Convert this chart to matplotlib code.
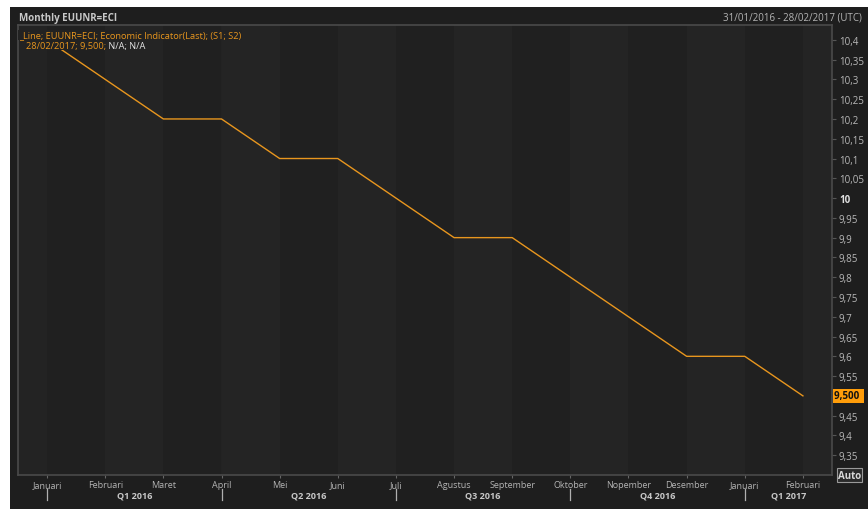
import matplotlib
matplotlib.use("Agg")
import matplotlib.pyplot as plt
import matplotlib.transforms as mtransforms

plt.rcParams['font.family'] = ['Open Sans', 'DejaVu Sans']

# data (monthly, end of month)
months = ['Januari', 'Februari', 'Maret', 'April', 'Mei', 'Juni', 'Juli',
          'Agustus', 'September', 'Oktober', 'Nopember', 'Desember',
          'Januari', 'Februari']
values = [10.4, 10.3, 10.2, 10.2, 10.1, 10.1, 10.0,
          9.9, 9.9, 9.8, 9.7, 9.6, 9.6, 9.5]
quarters = ['Q1 2016', 'Q2 2016', 'Q3 2016', 'Q4 2016', 'Q1 2017']
quarter_start = [0, 3, 6, 9, 12]
ytick_vals = [9.35, 9.4, 9.45, 9.55, 9.6, 9.65, 9.7, 9.75, 9.8, 9.85, 9.9,
              9.95, 10.0, 10.05, 10.1, 10.15, 10.2, 10.25, 10.3, 10.35, 10.4]
last_value = 9.5

W, H = 868, 510
fig = plt.figure(figsize=(W / 100, H / 100), dpi=100, facecolor='white')

# dark panel
fig.patches.append(plt.Rectangle((10 / W, 0), 1, (H - 8) / H, transform=fig.transFigure,
                                 facecolor='#1e1e1e', edgecolor='none', zorder=-5))

ax_l, ax_r, ax_t, ax_b = 18, 832, 26, 476
ax = fig.add_axes([ax_l / W, (H - ax_b) / H, (ax_r - ax_l) / W, (ax_b - ax_t) / H])
ax.set_zorder(1)
ax.set_facecolor('#232323')
ax.set_xlim(-0.5, len(months) - 0.5)
ax.set_ylim(9.3, 10.4375)

# month stripes
for i in range(len(months)):
    c = '#202020' if i % 2 == 0 else '#242424'
    ax.axvspan(i, i + 1, color=c, lw=0, zorder=0)

ax.plot(range(len(values)), values, color='#e8961e', lw=1.0, zorder=2)

for s in ax.spines.values():
    s.set_color('#4a4a4a')
    s.set_linewidth(1.2)

# y axis on right
ax.yaxis.tick_right()
ylabels = [('%g' % v).replace('.', ',') for v in ytick_vals]
ax.set_yticks(ytick_vals, ylabels)
ax.tick_params(axis='y', colors='#555555', labelcolor='#b8b8b8', length=3,
               width=0.8, labelsize=7, pad=2)
for lab in ax.get_yticklabels():
    if lab.get_text() == '10':
        lab.set_fontweight('bold')
        lab.set_color('#e0e0e0')

# x axis
ax.set_xticks(range(len(months)), months)
ax.tick_params(axis='x', colors='#666666', labelcolor='#b4b4b4', length=2,
               width=0.8, labelsize=6.5, pad=1.5)

# quarter labels and separators
trans = mtransforms.blended_transform_factory(ax.transData, ax.transAxes)
h = ax_b - ax_t
bounds = quarter_start + [len(months) - 0.5]
for k, q in enumerate(quarters):
    mid = (bounds[k] + bounds[k + 1]) / 2
    ax.text(mid, -(496 - ax_b) / h, q, transform=trans, ha='center', va='center',
            fontsize=6.5, fontweight='bold', color='#c8c8c8')
for qs in quarter_start:
    ax.plot([qs, qs], [-(490 - ax_b) / h, -(501 - ax_b) / h], transform=trans,
            color='#b0b0b0', lw=0.9, clip_on=False)

# last value tag and auto box
ytrans = mtransforms.blended_transform_factory(ax.transAxes, ax.transData)
ax.text(1.003, last_value, '9,500 ', transform=ytrans, ha='left', va='center',
        fontsize=7, fontweight='bold', color='#111111', zorder=6,
        bbox=dict(boxstyle='square,pad=0.15', facecolor='#ff9d0a', edgecolor='none'))
ax.text(1.007, 9.3, 'Auto', transform=ytrans, ha='left', va='center',
        fontsize=7, fontweight='bold', color='#d8d8d8', zorder=6,
        bbox=dict(boxstyle='square,pad=0.12', facecolor='#2a2a2a', edgecolor='#9a9a9a', lw=0.8))

# legend text inside plot
t1 = ax.text(0.001, (ax_b - 36) / h, '_Line; EUUNR=ECI; Economic Indicator(Last); (S1; S2)',
             transform=ax.transAxes, ha='left', va='center', fontsize=6.7, color='#e8961e',
             zorder=5, bbox=dict(boxstyle='square,pad=0.1', facecolor='#222222', edgecolor='none'))
t2 = ax.text(8 / (ax_r - ax_l), (ax_b - 46) / h, '28/02/2017; 9,500;',
             transform=ax.transAxes, ha='left', va='center', fontsize=6.7, color='#e8961e',
             zorder=5, bbox=dict(boxstyle='square,pad=0.1', facecolor='#222222', edgecolor='none'))
ax.annotate(' N/A; N/A', xy=(1, 0.5), xycoords=t2, ha='left', va='center',
            fontsize=6.7, color='#e6e6e6', zorder=5)

# header
fig.text(19 / W, 1 - 18 / H, 'Monthly EUUNR=ECI', ha='left', va='center',
         fontsize=7, fontweight='bold', color='#c8c8c8')
fig.text(862 / W, 1 - 18 / H, '31/01/2016 - 28/02/2017 (UTC)', ha='right', va='center',
         fontsize=7, color='#b4b4b4')

fig.savefig('out.png', dpi=100, facecolor='white')
